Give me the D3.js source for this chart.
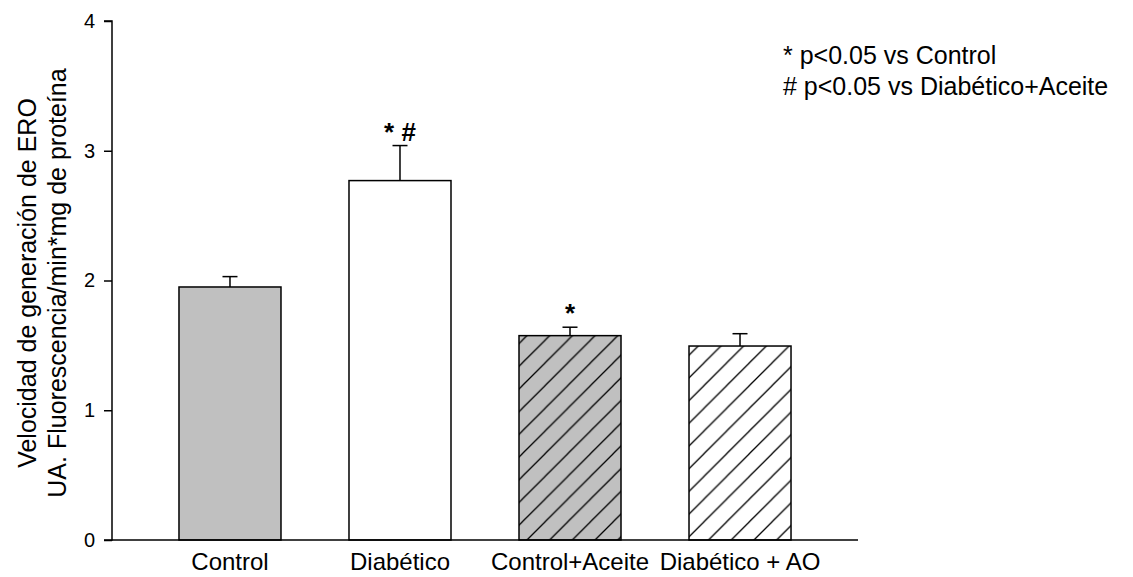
<!DOCTYPE html>
<html><head><meta charset="utf-8">
<script src="https://cdn.jsdelivr.net/npm/d3@7"></script>
<style>body{margin:0;background:#fff}svg{display:block}text{font-family:"Liberation Sans",Arial,sans-serif}</style>
</head><body><svg id="c" width="1133" height="577"></svg>
<script>
const categories = ["Control","Diabético","Control+Aceite","Diabético + AO"];
const means = [1.95, 2.77, 1.575, 1.495];
const errors = [0.08, 0.27, 0.065, 0.095];
const fills = ["gray","white","grayHatch","whiteHatch"];
const marks = [[], ["*","#"], ["*"], []];
const yTicks = [0,1,2,3,4];
const legendLines = ["* p<0.05 vs Control","# p<0.05 vs Diabético+Aceite"];
const yTitle = ["Velocidad de generación de ERO","UA. Fluorescencia/min*mg de proteína"];

const svg = d3.select("#c");
const defs = svg.append("defs");
function hatch(id, bg){
  const p = defs.append("pattern").attr("id",id).attr("patternUnits","userSpaceOnUse")
    .attr("width",22.7).attr("height",22.7).attr("x",0).attr("y",0);
  p.append("rect").attr("width",22.7).attr("height",22.7).attr("fill",bg);
  p.append("path").attr("d","M-2,24.7 L24.7,-2 M-5,5 L5,-5 M17.7,27.7 L27.7,17.7")
    .attr("stroke","#000").attr("stroke-width",1.3);
}
hatch("grayHatch","#c0c0c0");
hatch("whiteHatch","#ffffff");
const fillOf = {gray:"#c0c0c0", white:"#ffffff", grayHatch:"url(#grayHatch)", whiteHatch:"url(#whiteHatch)"};

const x = d3.scaleBand().domain(categories).range([112, 858]).paddingInner(0.4).paddingOuter(0.394);
const y = d3.scaleLinear().domain([0,4]).range([540, 21]);

// bars
svg.append("g").selectAll("rect").data(categories).join("rect")
  .attr("x", d=>x(d)).attr("width", x.bandwidth())
  .attr("y", (d,i)=>y(means[i])).attr("height",(d,i)=>y(0)-y(means[i]))
  .attr("fill",(d,i)=>fillOf[fills[i]]).attr("stroke","#000").attr("stroke-width",1.5);

// error bars
const eb = svg.append("g").attr("stroke","#000").attr("stroke-width",1.5);
categories.forEach((c,i)=>{
  const cx = x(c)+x.bandwidth()/2;
  eb.append("line").attr("x1",cx).attr("x2",cx).attr("y1",y(means[i])).attr("y2",y(means[i]+errors[i]));
  eb.append("line").attr("x1",cx-7.5).attr("x2",cx+7.5).attr("y1",y(means[i]+errors[i])).attr("y2",y(means[i]+errors[i]));
});

// significance marks
categories.forEach((c,i)=>{
  if(!marks[i].length) return;
  const cx = x(c)+x.bandwidth()/2;
  const top = y(means[i]+errors[i]);
  svg.append("text").attr("x",cx).attr("y",top-5).attr("text-anchor","middle")
    .attr("font-size",26).attr("font-weight","bold").text(marks[i].join(" "));
});

// axes
const yAxis = d3.axisLeft(y).tickValues(yTicks).tickFormat(d3.format("d")).tickSize(8).tickPadding(9);
const gy = svg.append("g").attr("transform","translate(112,0)").call(yAxis);
gy.select(".domain").attr("d","M-8,21H0V540H-8").attr("stroke-width",1.5);
gy.selectAll(".tick line").attr("stroke-width",1.5);
gy.selectAll("text").attr("font-size",20).attr("font-family","Liberation Sans, Arial, sans-serif").attr("fill","#000");

const xAxis = d3.axisBottom(x).tickSize(0).tickPadding(13);
const gx = svg.append("g").attr("transform","translate(0,540)").call(xAxis);
gx.select(".domain").attr("d","M112,0H858").attr("stroke-width",1.5);
gx.selectAll("text").attr("font-size",24).attr("font-family","Liberation Sans, Arial, sans-serif").attr("fill","#000");

// y title
const yt = svg.append("text").attr("transform","translate(0,283) rotate(-90)").attr("text-anchor","middle").attr("font-size",25);
yt.selectAll("tspan").data(yTitle).join("tspan").attr("x",0).attr("y",(d,i)=>i===0?36:66).text(d=>d);

// legend
const lg = svg.append("text").attr("font-size",25);
lg.selectAll("tspan").data(legendLines).join("tspan").attr("x",783).attr("y",(d,i)=>64+i*31).text(d=>d);
</script></body></html>
